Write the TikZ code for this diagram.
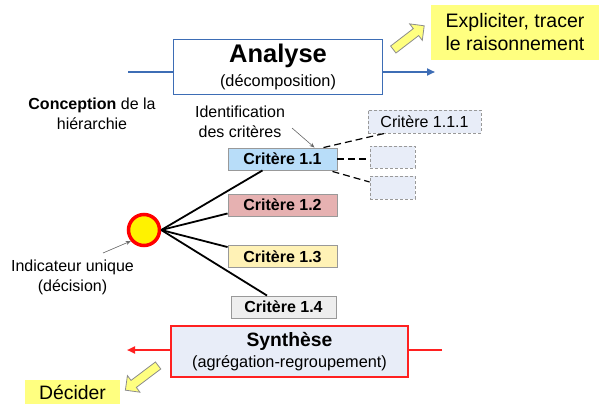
\documentclass[tikz,border=0pt]{standalone}
\usepackage{fontspec}
\setmainfont{Liberation Sans}
\usetikzlibrary{calc,shapes.arrows,arrows.meta}
\definecolor{anablue}{HTML}{3D6DB5}
\definecolor{synred}{HTML}{FF2020}
\definecolor{notey}{HTML}{FFFF80}
\definecolor{c11fill}{HTML}{B8DDF9}
\definecolor{c12fill}{HTML}{E6B1B1}
\definecolor{c13fill}{HTML}{FFF2B6}
\definecolor{c14fill}{HTML}{EEEEEE}
\definecolor{subfill}{HTML}{E8EDF8}
\definecolor{boxgray}{HTML}{999999}
\tikzset{
  txt/.style={inner sep=0pt, align=center, font=\fontsize{16}{19.5}\selectfont},
  crit/.style={draw=boxgray, line width=0.9pt, minimum width=109pt, minimum height=22pt, inner sep=0pt, font=\fontsize{16}{18}\selectfont\bfseries},
  subcrit/.style={draw=boxgray, dashed, dash pattern=on 3pt off 2pt, line width=0.8pt, fill=subfill, inner sep=0pt, font=\fontsize{16}{19}\selectfont},
  branch/.style={black, line width=1.8pt},
  dashlink/.style={black, dashed, dash pattern=on 7pt off 4pt, line width=1.2pt},
  pointer/.style={draw=black!60, line width=0.6pt, -{Stealth[length=5pt,width=4pt]}},
  fatarrow/.style={single arrow, draw=black!45, fill=notey, line width=0.8pt, inner sep=4pt, minimum width=20pt, single arrow head extend=6pt, single arrow head indent=0pt},
  note/.style={fill=notey, inner sep=0pt, align=center}
}
\begin{document}
\begin{tikzpicture}[x=1pt,y=-1pt]
\useasboundingbox (0,0) rectangle (604,406);
% Analyse
\node[draw=anablue, line width=1.8pt, fill=white, minimum width=209pt, minimum height=55pt] (ana) at (278,67) {};
\node[inner sep=0pt, font=\fontsize{25.5}{28}\selectfont\bfseries] (anat) at (278,56) {Analyse};
\node[inner sep=0pt, font=\fontsize{16.3}{19}\selectfont] (anas) at (278,82) {(décomposition)};
\coordinate (ain) at (128,72);
\coordinate (aout) at (435,72);
\draw[anablue, line width=2pt] (ain) -- (ana.west |- ain);
\draw[anablue, line width=2pt, -{Triangle[length=8pt,width=7pt]}] (ana.east |- aout) -- (aout);
% note top right
\node[note, minimum width=168pt, minimum height=55pt, font=\fontsize{19.5}{23}\selectfont] (expl) at (515,32.5) {Expliciter, tracer\\le raisonnement};
\node[fatarrow, minimum height=39pt, rotate=37.5] (arr1) at (407,39) {};
% Conception
\node[txt] (conc) at (92,114) {\textbf{Conception} de la\\hiérarchie};
\node[txt] (ident) at (240,122) {Identification\\des critères};
% criteria
\node[crit, fill=c11fill] (c11) at (282.5,159) {Critère 1.1};
\node[crit, fill=c12fill] (c12) at (282.5,205) {Critère 1.2};
\node[crit, fill=c13fill] (c13) at (282.5,256.5) {Critère 1.3};
\node[crit, fill=c14fill, minimum width=105pt] (c14) at (283.5,307) {Critère 1.4};
% sub-criteria
\node[subcrit, minimum width=113pt, minimum height=23pt] (s1) at (424.5,121.5) {Critère 1.1.1};
\node[subcrit, minimum width=45pt, minimum height=22pt] (s2) at (392.5,157) {};
\node[subcrit, minimum width=45pt, minimum height=23pt] (s3) at (392.5,187.5) {};
\draw[dashlink] ($(c11.north east)+(-14,0)$) -- ($(s1.south west)+(17,0)$);
\draw[dashlink] (c11.east) -- (s2.west |- c11.east);
\draw[dashlink] ($(c11.south east)+(-5,1)$) -- ($(s3.west)+(0,-5.5)$);
% circle
\node[circle, draw=red, fill=yellow, line width=3.5pt, minimum size=31pt, inner sep=0pt] (circ) at (144,230) {};
\draw[branch] (circ.east) -- ($(c11.south)+(-20,0)$);
\draw[branch] (circ.east) -- ($(c12.south west)+(0,-3)$);
\draw[branch] (circ.east) -- ($(c13.north west)+(0,2)$);
\draw[branch] (circ.east) -- ($(c14.north)+(-16.5,0)$);
% labels with pointers
\coordinate (idfrom) at (292,128);
\draw[pointer] (idfrom) -- ($(c11.north)+(32,0)$);
\node[txt] (indic) at (72.5,277.5) {Indicateur unique\\(décision)};
\coordinate (infrom) at (103,253);
\draw[pointer] (infrom) -- (circ.220);
% Synthese
\node[draw=synred, line width=1.8pt, fill=subfill, minimum width=237pt, minimum height=51pt] (syn) at (289.5,351.5) {};
\node[inner sep=0pt, font=\fontsize{19.3}{22}\selectfont\bfseries] (synt) at (289.5,341) {Synthèse};
\node[inner sep=0pt, font=\fontsize{16.3}{19}\selectfont] (syns) at (289.5,363) {(agrégation-regroupement)};
\coordinate (sin) at (442,350);
\coordinate (sout) at (127,350);
\draw[synred, line width=2pt] (sin) -- (syn.east |- sin);
\draw[synred, line width=2pt, -{Triangle[length=8pt,width=7pt]}] (syn.west |- sout) -- (sout);
% Decider
\node[note, minimum width=95pt, minimum height=24pt, font=\fontsize{19.4}{22}\selectfont] (dec) at (72.5,392) {Décider};
\node[fatarrow, minimum height=41pt, rotate=217] (arr2) at (143.5,376.5) {};
\end{tikzpicture}
\end{document}
